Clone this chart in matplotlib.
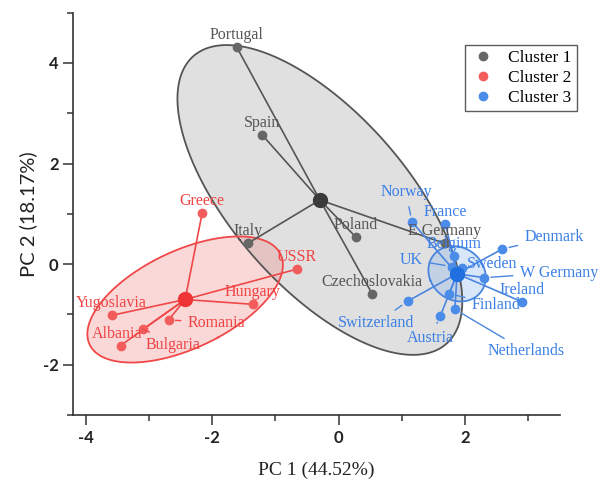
import numpy as np
import matplotlib
matplotlib.use('Agg')
import matplotlib.pyplot as plt
from matplotlib.ticker import MultipleLocator

plt.rcParams['axes.unicode_minus'] = False

# cluster 1
names_c1 = ['Portugal', 'Spain', 'Italy', 'Poland', 'Czechoslovakia', 'E Germany']
pc1_c1 = [-1.61, -1.21, -1.44, 0.27, 0.53, 1.68]
pc2_c1 = [4.31, 2.57, 0.41, 0.54, -0.59, 0.41]

# cluster 2
names_c2 = ['Greece', 'USSR', 'Hungary', 'Yugoslavia', 'Romania', 'Albania', 'Bulgaria']
pc1_c2 = [-2.16, -0.66, -1.36, -3.59, -2.69, -3.45, -3.09]
pc2_c2 = [1.01, -0.10, -0.80, -1.02, -1.11, -1.62, -1.29]

# cluster 3
names_c3 = ['Norway', 'France', 'Belgium', 'UK', 'Sweden', 'W Germany', 'Denmark',
            'Ireland', 'Finland', 'Netherlands', 'Austria', 'Switzerland']
pc1_c3 = [1.16, 1.69, 1.82, 1.79, 1.95, 2.30, 2.59, 2.90, 1.75, 1.84, 1.61, 1.09]
pc2_c3 = [0.84, 0.80, 0.16, -0.05, -0.08, -0.27, 0.30, -0.75, -0.59, -0.90, -1.03, -0.74]

# label offsets in pixels (default: just above the point)
label_off = {
    'Romania': (48, -3), 'Albania': (-4, 12), 'Bulgaria': (30, -16),
    'Norway': (-6, 30), 'UK': (-41, 7), 'Sweden': (30, 4), 'W Germany': (75, 5),
    'Denmark': (52, 12), 'Finland': (47, -11), 'Netherlands': (71, -42),
    'Austria': (-10, -22), 'Switzerland': (-31, -22),
}


def conf_ellipse(x, y):
    # 95% confidence ellipse of the mean (Hotelling T2)
    n = len(x)
    cov = np.cov(x, y)
    t2 = (n - 1) * (0.05 ** (-2 / (n - 2)) - 1)
    k = np.sqrt(t2 / n)
    w, v = np.linalg.eigh(cov)
    t = np.linspace(0, 2 * np.pi, 300)
    circ = np.vstack([np.cos(t), np.sin(t)])
    pts = v @ (np.sqrt(w)[:, None] * circ) * k
    return np.mean(x) + pts[0], np.mean(y) + pts[1]


clusters = [
    ('Cluster 1', names_c1, pc1_c1, pc2_c1, '#666666', '#3a3a3a', '#555555', '#9a9a9a', '#555555'),
    ('Cluster 2', names_c2, pc1_c2, pc2_c2, '#f25c5c', '#ee3434', '#f04848', '#f08080', '#f04444'),
    ('Cluster 3', names_c3, pc1_c3, pc2_c3, '#4a8ce8', '#1f6fe0', '#4a86e0', '#7fb0f0', '#3a80e6'),
]

fig = plt.figure(figsize=(6, 4.87), dpi=100)
ax = fig.add_axes([0.122, 0.148, 0.811, 0.826])

serif = 'Liberation Serif'

for lab, names, xs, ys, pcol, ccol, ecol, fcol, tcol in clusters:
    xs = np.array(xs)
    ys = np.array(ys)
    ex, ey = conf_ellipse(xs, ys)
    ax.fill(ex, ey, color=fcol, alpha=0.3, lw=0, zorder=1)
    ax.plot(ex, ey, color=ecol, lw=1.3, zorder=2)

for lab, names, xs, ys, pcol, ccol, ecol, fcol, tcol in clusters:
    xs = np.array(xs)
    ys = np.array(ys)
    cx, cy = xs.mean(), ys.mean()
    for x, y in zip(xs, ys):
        ax.plot([cx, x], [cy, y], color=ecol, lw=1.2, zorder=3)
    ax.plot(xs, ys, 'o', color=pcol, ms=6, mec=pcol, zorder=4, label=lab)
    ax.plot(cx, cy, 'o', color=ccol, ms=10, zorder=5)
    for name, x, y in zip(names, xs, ys):
        dx, dy = label_off.get(name, (0, 12))
        far = abs(dx) > 20 or abs(dy) > 20
        ax.annotate(name, (x, y), xytext=(dx, dy), textcoords='offset pixels',
                    ha='center', va='center', color=tcol, fontsize=11.5,
                    family=serif, zorder=6,
                    arrowprops=dict(arrowstyle='-', color=ecol, lw=1.0,
                                    shrinkA=3, shrinkB=5) if far else None)

ax.set_xlim(-4.2, 3.5)
ax.set_ylim(-3, 5)
ax.xaxis.set_major_locator(MultipleLocator(2))
ax.xaxis.set_minor_locator(MultipleLocator(1))
ax.yaxis.set_major_locator(MultipleLocator(2))
ax.yaxis.set_minor_locator(MultipleLocator(1))
ax.spines['top'].set_visible(False)
ax.spines['right'].set_visible(False)
for s in ['left', 'bottom']:
    ax.spines[s].set_color('#333333')
    ax.spines[s].set_linewidth(1.2)
ax.tick_params(which='major', length=7, width=1.1, color='#333333', direction='out')
ax.tick_params(which='minor', length=4, width=1.1, color='#333333', direction='out')
for t in ax.get_xticklabels() + ax.get_yticklabels():
    t.set_family('Lato')
    t.set_fontweight('bold')
    t.set_fontsize(12)
    t.set_color('#222222')

ax.set_xlabel('PC 1 (44.52%)', family=serif, fontsize=14, color='#222222', labelpad=12)
ax.set_ylabel('PC 2 (18.17%)', family='Lato', fontsize=14.5, color='#222222')
ax.yaxis.set_label_coords(-0.075, 0.5)

leg = ax.legend(loc='upper right', bbox_to_anchor=(577 / 600, 1 - 45 / 487),
                bbox_transform=fig.transFigure, frameon=True, fancybox=False,
                prop={'family': serif, 'size': 12.5}, handletextpad=0.7,
                borderpad=0.3, labelspacing=0.2, handlelength=1.5,
                borderaxespad=0)
leg.get_frame().set_edgecolor('#333333')
leg.get_frame().set_linewidth(1.0)

fig.savefig('out.png', dpi=100)
